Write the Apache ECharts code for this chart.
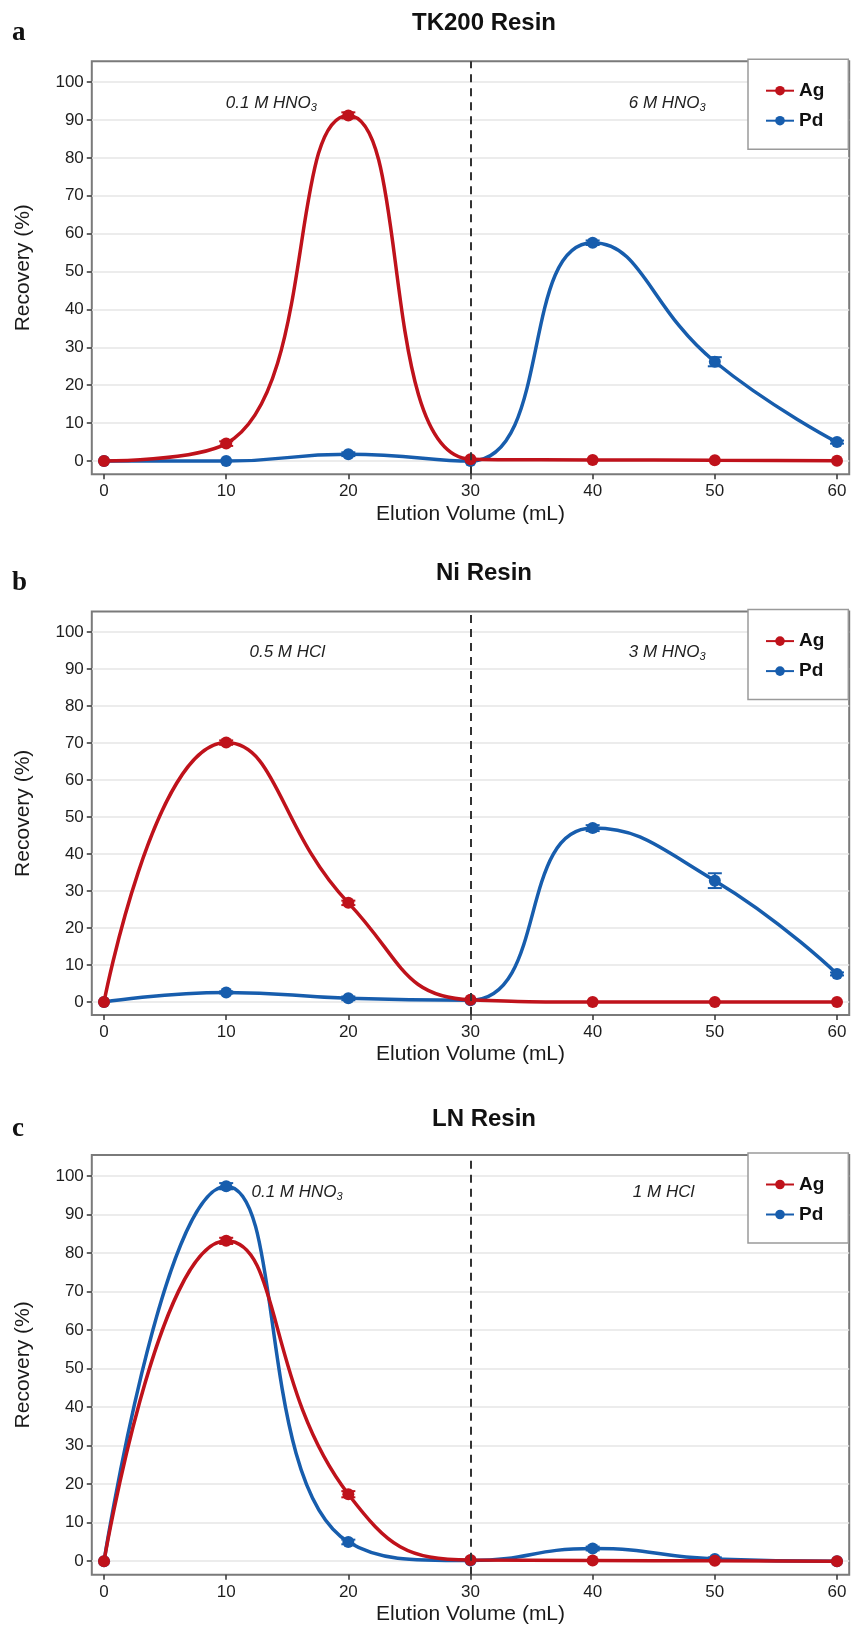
<!DOCTYPE html>
<html><head><meta charset="utf-8">
<script src="https://cdn.jsdelivr.net/npm/echarts@6/dist/echarts.min.js"></script>
<style>html,body{margin:0;padding:0;background:#fff}#c{width:853px;height:1635px}</style>
</head><body><div id="c"></div>
<script>
// ---------- data ----------
const elutionVolume = [0, 10, 20, 30, 40, 50, 60];
const xTicks = [0, 10, 20, 30, 40, 50, 60];
const yTicks = [0, 10, 20, 30, 40, 50, 60, 70, 80, 90, 100];
const panelTitles = ['TK200 Resin', 'Ni Resin', 'LN Resin'];
const panelLetters = ['a', 'b', 'c'];
const seriesNames = ['Ag', 'Pd'];

// TK200 resin
const tkAg = [0, 4.6, 91.2, 0.5, 0.3, 0.2, 0.1];
const tkPd = [0, 0, 1.8, 0, 57.6, 26.2, 5.0];
const tkAgErr = [0, 0.6, 0.8, 0, 0, 0, 0];
const tkPdErr = [0, 0, 0.5, 0, 0.6, 1.2, 0.4];
// Ni resin
const niAg = [0, 70.1, 26.8, 0.6, 0, 0, 0];
const niPd = [0, 2.6, 1.0, 0.5, 47.0, 32.8, 7.6];
const niAgErr = [0, 0.6, 0.6, 0, 0, 0, 0];
const niPdErr = [0, 0.3, 0.5, 0, 0.8, 2.0, 0.4];
// LN resin
const lnAg = [0, 83.2, 17.4, 0.3, 0.2, 0.1, 0];
const lnPd = [0, 97.4, 5.0, 0.2, 3.3, 0.6, 0];
const lnAgErr = [0, 0.8, 0.8, 0, 0, 0, 0];
const lnPdErr = [0, 0.8, 0.6, 0, 0.5, 0.4, 0];

// eluent labels: [main text, subscript]
const eluentLeft = [['0.1 M HNO', '3'], ['0.5 M HCl', ''], ['0.1 M HNO', '3']];
const eluentRight = [['6 M HNO', '3'], ['3 M HNO', '3'], ['1 M HCl', '']];
const eluentSwitch = 30;

// ---------- layout / style ----------
const RED = '#BF121B', BLUE = '#175DAD';
const FONT = 'Liberation Sans, Arial, Helvetica, sans-serif';
const layout = [
  { top: 61.2, height: 413.1, titleY: 23, leftLbl: [13.7, 94.3], rightLbl: [46.1, 94.3] },
  { top: 611.6, height: 403.4, titleY: 573, leftLbl: [15.0, 94.6], rightLbl: [46.1, 94.6] },
  { top: 1155, height: 419.7, titleY: 1119, leftLbl: [15.8, 95.8], rightLbl: [45.8, 95.8] }
];
const GRID_LEFT = 91.8, GRID_W = 757.4;

const panels = [
  { ag: tkAg, pd: tkPd, agErr: tkAgErr, pdErr: tkPdErr },
  { ag: niAg, pd: niPd, agErr: niAgErr, pdErr: niPdErr },
  { ag: lnAg, pd: lnPd, agErr: lnAgErr, pdErr: lnPdErr }
];

function pairs(vals) { return elutionVolume.map((x, i) => [x, vals[i]]); }
function errTriples(vals, errs) {
  const out = [];
  elutionVolume.forEach((x, i) => { if (errs[i] > 0) out.push([x, vals[i], errs[i]]); });
  return out;
}
function renderErr(params, api) {
  const x = api.value(0), y = api.value(1), e = api.value(2);
  const t = api.coord([x, y + e]), b = api.coord([x, y - e]);
  const w = 7;
  const style = { stroke: api.visual('color'), lineWidth: 2 };
  return { type: 'group', children: [
    { type: 'line', shape: { x1: t[0], y1: t[1], x2: b[0], y2: b[1] }, style },
    { type: 'line', shape: { x1: t[0] - w, y1: t[1], x2: t[0] + w, y2: t[1] }, style },
    { type: 'line', shape: { x1: b[0] - w, y1: b[1], x2: b[0] + w, y2: b[1] }, style }
  ]};
}
function eluentFmt(pair) { return '{i|' + pair[0] + '}' + (pair[1] ? '{s|' + pair[1] + '}' : ''); }

const grids = [], xAxes = [], yAxes = [], series = [], legends = [], graphics = [];
panels.forEach((p, k) => {
  const L = layout[k];
  grids.push({ left: GRID_LEFT, width: GRID_W, top: L.top, height: L.height, show: true,
    borderColor: '#7a7a7a', borderWidth: 2, backgroundColor: '#fff', containLabel: false });
  xAxes.push({ type: 'value', gridIndex: k, min: -1, max: 61, position: 'bottom',
    name: 'Elution Volume (mL)', nameLocation: 'middle', nameGap: 29,
    nameTextStyle: { fontFamily: FONT, fontSize: 21, color: '#1a1a1a' },
    axisLine: { show: false, onZero: false },
    axisTick: { show: true, customValues: xTicks, length: 5, lineStyle: { color: '#333', width: 1.5 } },
    axisLabel: { customValues: xTicks, margin: 9, fontFamily: FONT, fontSize: 17, color: '#1e1e1e' },
    splitLine: { show: false } });
  yAxes.push({ type: 'value', gridIndex: k, min: -3.5, max: 105.5, position: 'left',
    name: 'Recovery (%)', nameLocation: 'middle', nameGap: 58, nameRotate: 90,
    nameTextStyle: { fontFamily: FONT, fontSize: 21, color: '#1a1a1a' },
    axisLine: { show: false, onZero: false },
    axisTick: { show: true, customValues: yTicks, length: 5, lineStyle: { color: '#333', width: 1.5 } },
    axisLabel: { customValues: yTicks, margin: 8, fontFamily: FONT, fontSize: 17, color: '#1e1e1e' },
    splitLine: { show: true, lineStyle: { color: '#e6e6e6', width: 1.5 } } });

  // helper: dashed eluent switch line + eluent labels
  series.push({ type: 'line', name: 'helper' + k, xAxisIndex: k, yAxisIndex: k, data: [], z: 2, silent: true,
    markLine: { silent: true, symbol: ['none', 'none'], label: { show: false },
      lineStyle: { type: [8, 6], color: '#333', width: 2 },
      data: [{ xAxis: eluentSwitch }] },
    markPoint: { silent: true, symbol: 'circle', symbolSize: 1, itemStyle: { color: 'rgba(0,0,0,0)' },
      label: { show: true, position: 'inside', color: '#222',
        rich: { i: { fontFamily: FONT, fontStyle: 'italic', fontSize: 17, color: '#222' },
                s: { fontFamily: FONT, fontStyle: 'italic', fontSize: 11, color: '#222', padding: [9, 0, 0, 0] } } },
      data: [
        { coord: L.leftLbl, value: 0, label: { formatter: eluentFmt(eluentLeft[k]) } },
        { coord: L.rightLbl, value: 0, label: { formatter: eluentFmt(eluentRight[k]) } }
      ] } });

  const defs = [
    { name: seriesNames[1], color: BLUE, vals: p.pd, errs: p.pdErr, z: 3 },
    { name: seriesNames[0], color: RED, vals: p.ag, errs: p.agErr, z: 4 }
  ];
  defs.forEach(d => {
    series.push({ type: 'line', name: d.name, xAxisIndex: k, yAxisIndex: k, data: pairs(d.vals),
      smooth: 0.5, symbol: 'circle', symbolSize: 12, z: d.z,
      lineStyle: { color: d.color, width: 3.5 }, itemStyle: { color: d.color } });
    series.push({ type: 'custom', name: d.name + ' err', xAxisIndex: k, yAxisIndex: k,
      data: errTriples(d.vals, d.errs), renderItem: renderErr, z: d.z,
      itemStyle: { color: d.color } });
  });

  legends.push({ data: ['Ag', 'Pd'], orient: 'vertical', left: 748, top: L.top - 2,
    padding: [22, 24, 19, 17], itemGap: 11, itemWidth: 28, itemHeight: 12, itemTextGap: 15,
    backgroundColor: '#fff', borderColor: '#9a9a9a', borderWidth: 1.5,
    selectedMode: false,
    textStyle: { fontFamily: FONT, fontSize: 19, fontWeight: 'bold', color: '#111' } });

  graphics.push({ type: 'text', x: 484, y: L.titleY, z: 10,
    style: { text: panelTitles[k], fontFamily: FONT, fontWeight: 'bold', fontSize: 24, fill: '#111',
      align: 'center', verticalAlign: 'middle' } });
  graphics.push({ type: 'text', x: 12, y: L.titleY + 10, z: 10,
    style: { text: panelLetters[k], fontFamily: 'Liberation Serif, Times New Roman, serif', fontWeight: 'bold', fontSize: 27, fill: '#111',
      align: 'left', verticalAlign: 'middle' } });
});

const chart = echarts.init(document.getElementById('c'), null, { renderer: 'canvas' });
chart.setOption({
  animation: false,
  backgroundColor: '#fff',
  grid: grids, xAxis: xAxes, yAxis: yAxes, series: series, legend: legends, graphic: graphics
});
</script>
</body></html>
